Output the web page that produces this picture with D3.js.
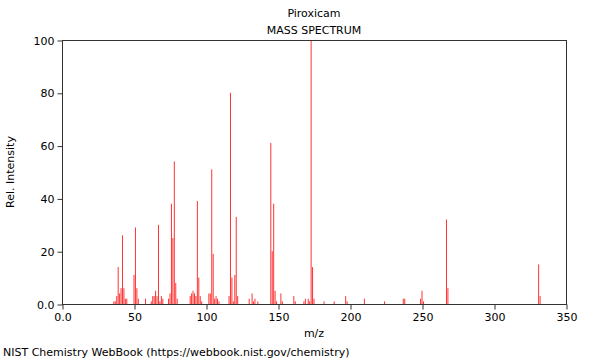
<!DOCTYPE html>
<html><head><meta charset="utf-8">
<script src="https://cdn.jsdelivr.net/npm/d3@7"></script>
<style>
body{margin:0;background:#fff;}
text{font-family:"DejaVu Sans",sans-serif;fill:#000;}
</style></head>
<body><svg id="c" width="600" height="360"></svg>
<script>
const title = "Piroxicam";
const subtitle = "MASS SPECTRUM";
const mz = [36,37,38,39,40,41,42,43,44,45,50,51,52,53,58,62,63,64,65,66,67,68,69,70,74,75,76,77,78,79,80,
  89,90,91,92,93,94,95,96,97,102,103,104,105,106,107,108,109,116,117,118,119,120,121,122,130,132,133,134,136,
  145,146,147,148,149,152,153,161,162,168,169,171,172,173,174,175,182,189,197,198,210,224,237,238,249,250,251,267,268,331,332];
const intensity = [1,1,3,14,4,6,26,6,2,2,11,29,6,2,2,1,3,3,5,3,30,1,3,2,2,4,38,25,54,8,2,
  3,4,5,4,3,39,10,3,1,4,4,51,19,2,3,2,1,3,80,10,1,11,33,3,2,4,1,2,1,
  61,20,38,5,1,4,1,3,1,1,2,2,1,100,14,2,1,1,3,1,2,1,2,2,2,5,1,32,6,15,3];
const xTicks = [0,50,100,150,200,250,300,350];
const yTicks = [0,20,40,60,80,100];

const svg = d3.select("#c");
const m = {l:62, r:566, t:40, b:304};
const x = d3.scaleLinear().domain([0,350]).range([m.l, m.r]);
const y = d3.scaleLinear().domain([0,100]).range([m.b, m.t]);
const fmt = d => d === 0 ? "0.0" : String(d);

// bars
svg.append("g").selectAll("line").data(mz).join("line")
  .attr("x1", d => x(d)).attr("x2", d => x(d))
  .attr("y1", y(0)).attr("y2", (d,i) => y(intensity[i]))
  .attr("stroke", "#ff3333").attr("stroke-width", 1);

// frame
svg.append("rect").attr("x", m.l+0.5).attr("y", m.t+0.5)
  .attr("width", m.r-m.l).attr("height", m.b-m.t)
  .attr("fill","none").attr("stroke","#333").attr("stroke-width",1);

// x axis
const gx = svg.append("g").attr("transform",`translate(0.5,${m.b+0.5})`);
gx.call(d3.axisBottom(x).tickValues(d3.range(0,351,10)).tickSize(3).tickFormat(""))
  .call(g=>g.select(".domain").remove());
gx.call(d3.axisBottom(x).tickValues(xTicks).tickSize(5).tickPadding(4).tickFormat(fmt))
  .call(g=>g.selectAll(".domain").remove());
gx.selectAll("line").attr("stroke","#333");
gx.selectAll("text").attr("font-size",11).attr("fill","#000");

// y axis
const gy = svg.append("g").attr("transform",`translate(${m.l+0.5},0.5)`);
gy.call(d3.axisLeft(y).tickValues(d3.range(0,101,5)).tickSize(3).tickFormat(""))
  .call(g=>g.select(".domain").remove());
gy.call(d3.axisLeft(y).tickValues(yTicks).tickSize(5).tickPadding(3).tickFormat(fmt))
  .call(g=>g.selectAll(".domain").remove());
gy.selectAll("line").attr("stroke","#333");
gy.selectAll("text").attr("font-size",11).attr("fill","#000");

// titles
const cx = (m.l+m.r)/2;
svg.append("text").attr("x",cx).attr("y",17).attr("text-anchor","middle").attr("font-size",11).text(title);
svg.append("text").attr("x",cx).attr("y",34).attr("text-anchor","middle").attr("font-size",11).text(subtitle);
svg.append("text").attr("x",cx).attr("y",337).attr("text-anchor","middle").attr("font-size",11).text("m/z");
svg.append("text").attr("transform",`translate(14,${(m.t+m.b)/2}) rotate(-90)`).attr("text-anchor","middle").attr("font-size",11).text("Rel. Intensity");
svg.append("text").attr("x",3).attr("y",356).attr("font-size",11).text("NIST Chemistry WebBook (https://webbook.nist.gov/chemistry)");
</script></body></html>
